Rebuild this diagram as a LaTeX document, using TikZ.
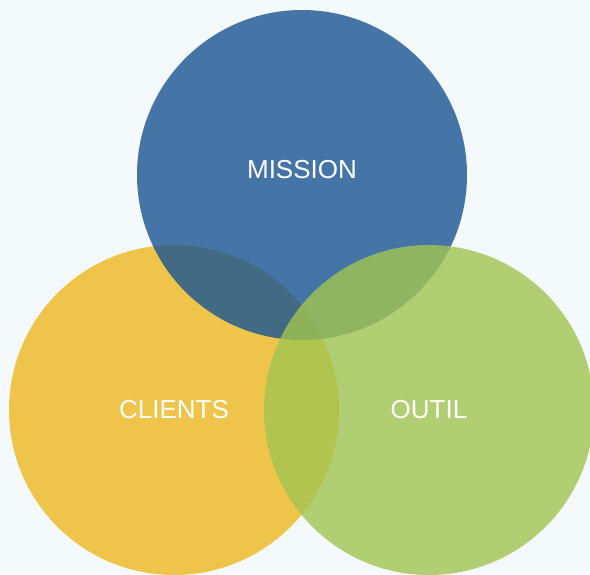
\documentclass[tikz,border=0pt]{standalone}
\usepackage{fontspec}
\setmainfont{Liberation Sans}
\definecolor{bgc}{HTML}{F4F9FB}
\definecolor{blu}{HTML}{185491}
\definecolor{yel}{HTML}{EEC54A}
\definecolor{grn}{HTML}{A2C451}
\begin{document}
\begin{tikzpicture}[x=1pt,y=-1pt,
  venn/.style={circle,minimum size=330pt,inner sep=0pt,draw=none},
  lbl/.style={text=white,font=\fontsize{26}{28}\selectfont}]
\fill[bgc] (0,0) rectangle (590,574);
\useasboundingbox (0,0) rectangle (590,574);
\node[venn,fill=yel] (clients) at (174,410) {};
\node[venn,fill=blu,fill opacity=0.8] (mission) at (302,175) {};
\node[venn,fill=grn,fill opacity=0.8] (outil) at (429,410) {};
\node[lbl] (tm) at ([yshift=5pt]mission.center) {MISSION};
\node[lbl] (tc) at (clients.center) {CLIENTS};
\node[lbl] (to) at (outil.center) {OUTIL};
\end{tikzpicture}
\end{document}
